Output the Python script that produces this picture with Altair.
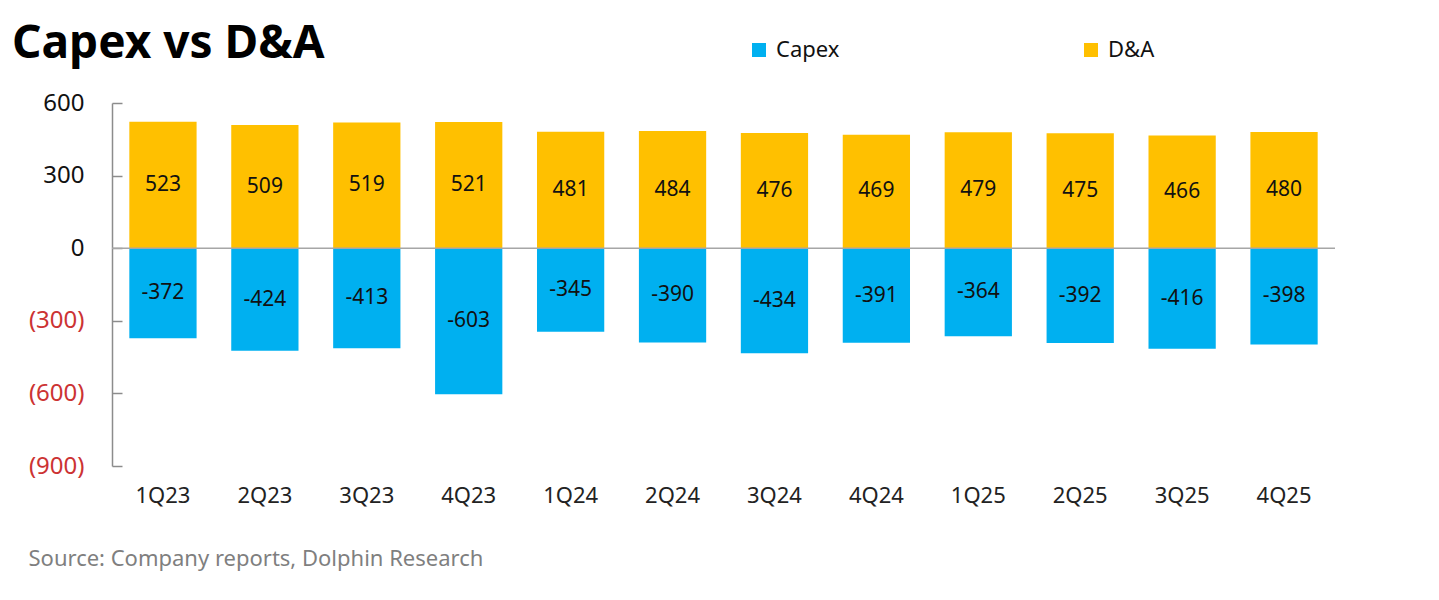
import altair as alt
import pandas as pd

quarters = ["1Q23", "2Q23", "3Q23", "4Q23", "1Q24", "2Q24",
            "3Q24", "4Q24", "1Q25", "2Q25", "3Q25", "4Q25"]
capex = [-372, -424, -413, -603, -345, -390, -434, -391, -364, -392, -416, -398]
da = [523, 509, 519, 521, 481, 484, 476, 469, 479, 475, 466, 480]
series = ["Capex", "D&A"]
colors = ["#00B0F0", "#FFC000"]
y_ticks = [-900, -600, -300, 0, 300, 600]

rows = []
for q, c, d in zip(quarters, capex, da):
    rows.append({"quarter": q, "series": "Capex", "value": c})
    rows.append({"quarter": q, "series": "D&A", "value": d})
df = pd.DataFrame(rows)

FONT = "Noto Sans"
AXIS_GRAY = "#8C8C8C"

x_enc = alt.X(
    "quarter:N", sort=quarters,
    scale=alt.Scale(paddingInner=0.34, paddingOuter=0.17),
    axis=alt.Axis(
        title="Source: Company reports, Dolphin Research",
        titleX=-84, titleY=92, titleAlign="left", titleBaseline="middle",
        titleFontSize=22, titleFontWeight="normal", titleColor="#7F7F7F",
        titleFont=FONT,
        labelAngle=0, labelFontSize=22, labelColor="#222222", labelFont=FONT,
        labelPadding=19, ticks=False, domain=False, grid=False,
    ),
)

y_scale = alt.Scale(domain=[-900, 600], nice=False, zero=False)


def y_axis():
    # inward tick marks drawn as short dashed grid segments
    return alt.Axis(
        title=None, values=y_ticks, ticks=False,
        grid=True, gridDash=[10, 4000], gridColor=AXIS_GRAY, gridWidth=1.5,
        labelExpr="datum.value < 0 ? '(' + format(-datum.value, ',') + ')' : format(datum.value, ',')",
        labelColor=alt.ExprRef(expr="datum.value < 0 ? '#CC3333' : '#111111'"),
        labelFontSize=24, labelFont=FONT, labelPadding=28,
        domainColor=AXIS_GRAY, domainWidth=1.5,
    )


base = alt.Chart(df).encode(x=x_enc)

bars = base.mark_bar().encode(
    y=alt.Y("value:Q", stack=None, scale=y_scale, axis=y_axis()),
    color=alt.Color(
        "series:N",
        scale=alt.Scale(domain=series, range=colors),
        legend=alt.Legend(
            title=None, orient="none", legendX=636, legendY=-64,
            direction="horizontal", columnPadding=240,
            symbolType="square", symbolSize=196, symbolStrokeWidth=0,
            labelFontSize=22, labelFont=FONT, labelColor="#111111", labelOffset=6,
        ),
    ),
)

zero = alt.Chart(pd.DataFrame({"v": [0]})).mark_rule(
    color="#A6A6A6", strokeWidth=1.5
).encode(y=alt.Y("v:Q", scale=y_scale, axis=y_axis()))

labels = base.transform_calculate(
    mid="datum.value / 2", label="'' + datum.value"
).mark_text(
    fontSize=21, font=FONT, color="#111111", baseline="middle"
).encode(
    y=alt.Y("mid:Q", scale=y_scale, axis=y_axis()),
    text=alt.Text("label:N"),
)

chart = alt.layer(bars, zero, labels).properties(
    width=1223, height=363,
    autosize="none",
    padding={"left": 104, "top": 95, "right": 90, "bottom": 110},
    title=alt.TitleParams(
        "Capex vs D&A", anchor="start", frame="group", fontSize=46,
        fontWeight="bold", font=FONT, color="#000000",
        dx=-100, offset=20, dy=49,
    ),
).configure_view(stroke=None)

chart.save("out.html", embed_options={"renderer": "svg", "actions": False})
